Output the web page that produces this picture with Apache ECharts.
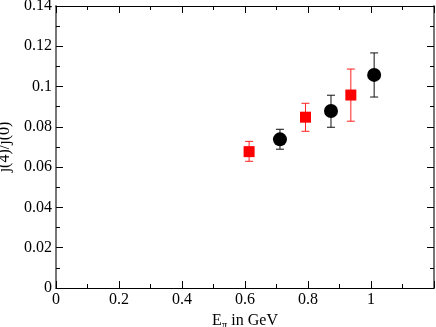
<!DOCTYPE html>
<html>
<head>
<meta charset="utf-8">
<script src="https://cdn.jsdelivr.net/npm/echarts@6/dist/echarts.min.js"></script>
<style>
  html, body { margin: 0; padding: 0; background: #fff; }
  #view { width: 436px; height: 327px; }
</style>
</head>
<body>
<div id="view"></div>
<script>
// red squares
var redX = [0.613, 0.792, 0.936];
var redY = [0.0677, 0.0848, 0.0958];
var redLow = [0.0629, 0.0778, 0.0828];
var redHigh = [0.0728, 0.0917, 0.1087];
// black circles
var blackX = [0.711, 0.873, 1.010];
var blackY = [0.0738, 0.0879, 0.1058];
var blackLow = [0.0689, 0.0798, 0.0948];
var blackHigh = [0.0788, 0.0957, 0.1167];

var font = 'Liberation Serif';

function pairs(xs, ys) {
    return xs.map(function (x, i) { return [x, ys[i]]; });
}
function bars(xs, lo, hi) {
    return xs.map(function (x, i) { return [x, lo[i], hi[i]]; });
}
function errorBars(color) {
    return function (params, api) {
        var top = api.coord([api.value(0), api.value(2)]);
        var bot = api.coord([api.value(0), api.value(1)]);
        var w = 4;
        var st = {stroke: color, lineWidth: 1};
        return {
            type: 'group',
            children: [
                {type: 'line', shape: {x1: top[0], y1: top[1], x2: bot[0], y2: bot[1]}, style: st},
                {type: 'line', shape: {x1: top[0] - w, y1: top[1], x2: top[0] + w, y2: top[1]}, style: st},
                {type: 'line', shape: {x1: bot[0] - w, y1: bot[1], x2: bot[0] + w, y2: bot[1]}, style: st}
            ]
        };
    };
}

var myChart = echarts.init(document.getElementById('view'));
var tickStyle = {show: true, inside: true, length: 7, lineStyle: {color: '#000'}};
var minorStyle = {show: true, splitNumber: 2, length: 4, lineStyle: {color: '#000'}};
var fmt = function (v) { return String(parseFloat(v.toFixed(2))); };

var option = {
    animation: false,
    backgroundColor: '#fff',
    textStyle: {fontFamily: font},
    grid: {left: 56, right: 2, top: 6, bottom: 39, outerBoundsMode: 'none', containLabel: false},
    xAxis: [{
        type: 'value', min: 0, max: 1.2, interval: 0.2,
        name: '{a|E}{b|π}{a| in GeV}',
        nameLocation: 'middle', nameGap: 18,
        nameTextStyle: {
            fontFamily: font,
            rich: {
                a: {fontFamily: font, fontSize: 16, color: '#000'},
                b: {fontFamily: font, fontSize: 11, color: '#000', padding: [9, 0, 0, 0]}
            }
        },
        axisLine: {onZero: false, lineStyle: {color: '#000', width: 1}},
        axisTick: tickStyle,
        minorTick: minorStyle,
        splitLine: {show: false},
        axisLabel: {
            fontFamily: font, fontSize: 16, color: '#000', margin: 4,
            showMaxLabel: false, formatter: fmt
        }
    }, {
        type: 'value', min: 0, max: 1.2, interval: 0.2, position: 'top',
        axisLine: {show: true, onZero: false, lineStyle: {color: '#000', width: 1}},
        axisTick: tickStyle, minorTick: minorStyle,
        axisLabel: {show: false}, splitLine: {show: false}
    }],
    yAxis: [{
        type: 'value', min: 0, max: 0.14, interval: 0.02,
        name: 'j(4)/j(0)',
        nameLocation: 'middle', nameGap: 40,
        nameTextStyle: {fontFamily: font, fontSize: 16, color: '#000'},
        axisLine: {show: true, onZero: false, lineStyle: {color: '#777', width: 2}},
        axisTick: tickStyle,
        minorTick: minorStyle,
        splitLine: {show: false},
        axisLabel: {fontFamily: font, fontSize: 16, color: '#000', margin: 4, formatter: fmt}
    }, {
        type: 'value', min: 0, max: 0.14, interval: 0.02, position: 'right',
        axisLine: {show: true, onZero: false, lineStyle: {color: '#777', width: 2}},
        axisTick: tickStyle, minorTick: minorStyle,
        axisLabel: {show: false}, splitLine: {show: false}
    }],
    series: [{
        type: 'custom', name: 'redErr',
        renderItem: errorBars('#ff2020'),
        data: bars(redX, redLow, redHigh), z: 1
    }, {
        type: 'custom', name: 'blackErr',
        renderItem: errorBars('#111'),
        data: bars(blackX, blackLow, blackHigh), z: 1
    }, {
        type: 'scatter', name: 'red',
        symbol: 'rect', symbolSize: 11,
        itemStyle: {color: '#ff0000', opacity: 1},
        data: pairs(redX, redY), z: 3
    }, {
        type: 'scatter', name: 'black',
        symbol: 'circle', symbolSize: 14,
        itemStyle: {color: '#000', opacity: 1},
        data: pairs(blackX, blackY), z: 3
    }]
};
myChart.setOption(option);
</script>
</body>
</html>
